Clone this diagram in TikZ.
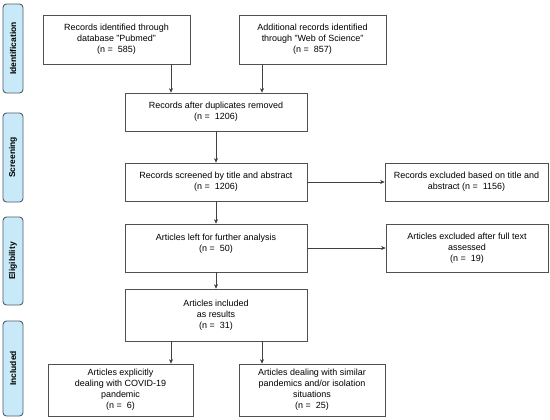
\documentclass[tikz,border=0pt]{standalone}
\usepackage{fontspec}
\setmainfont{Liberation Sans}
\usetikzlibrary{arrows.meta,calc}
\definecolor{sidefill}{HTML}{C8EAF8}
\definecolor{sidedraw}{HTML}{4F5D6B}
\definecolor{boxdraw}{HTML}{505050}
\begin{document}
\begin{tikzpicture}[x=1bp,y=-1bp,
  box/.style={draw=boxdraw,line width=0.7bp,fill=white,align=center,inner sep=0pt,
    font=\fontsize{9}{11}\selectfont},
  side/.style={draw=sidedraw,fill=sidefill,line width=0.9bp,rounded corners=3.5bp,
    minimum width=20bp,inner sep=0pt,font=\fontsize{8.5}{9}\bfseries\selectfont},
  arr/.style={draw=black!75,line width=0.6bp,-{Stealth[length=4.5bp,width=4bp]}}]
\useasboundingbox (0,0) rectangle (550,419);
\fill[white] (0,0) rectangle (550,419);
% side labels
\node[side,minimum height=89bp] (iden) at (13,48.5) {\rotatebox{90}{Identification}};
\node[side,minimum height=89bp] (scrn) at (13,157.5) {\rotatebox{90}{Screening}};
\node[side,minimum height=88bp] (elig) at (13,261) {\rotatebox{90}{Eligibility}};
\node[side,minimum height=95bp] (incl) at (13,368.5) {\rotatebox{90}{Included}};
% boxes
\node[box,minimum width=147bp,minimum height=49bp] (pub) at (116.5,39.5)
  {Records identified through\\database "Pubmed"\\(n =\ \ 585)};
\node[box,minimum width=147bp,minimum height=49bp] (wos) at (312.5,39.5)
  {Additional records identified\\through "Web of Science"\\(n =\ \ 857)};
\node[box,minimum width=182bp,minimum height=38bp] (dup) at (216,112)
  {Records after duplicates removed\\(n =\ \ 1206)};
\node[box,minimum width=182bp,minimum height=38bp] (scr) at (216,182)
  {Records screened by title and abstract\\(n =\ \ 1206)};
\node[box,minimum width=163bp,minimum height=38bp] (ex1) at (466.5,182)
  {Records excluded based on title and\\abstract (n =\ \ 1156)};
\node[box,minimum width=182bp,minimum height=48bp] (left) at (216,248)
  {Articles left for further analysis\\(n =\ \ 50)\\ \mbox{}};
\node[box,minimum width=162bp,minimum height=48bp] (ex2) at (467,248)
  {Articles excluded after full text\\assessed\\(n =\ \ 19)};
\node[box,minimum width=182bp,minimum height=52bp] (inc) at (216,315)
  {Articles included\\as results\\(n =\ \ 31)};
\node[box,minimum width=145bp,minimum height=52bp] (cov) at (120.5,390)
  {Articles explicitly\\dealing with COVID-19\\pandemic\\(n =\ \ 6)};
\node[box,minimum width=146bp,minimum height=52bp] (sim) at (312,390)
  {Articles dealing with similar\\pandemics and/or isolation\\situations\\(n =\ \ 25)};
% arrow columns
\coordinate (cl) at (171,0);
\coordinate (cr) at (262,0);
\draw[arr] (pub.south -| cl) -- (dup.north -| cl);
\draw[arr] (wos.south -| cr) -- (dup.north -| cr);
\draw[arr] (dup) -- (scr);
\draw[arr] (scr) -- (ex1);
\draw[arr] (scr) -- (left);
\draw[arr] (left.east) -- (ex2.west);
\draw[arr] (left) -- (inc);
\draw[arr] (inc.south -| cl) -- (cov.north -| cl);
\draw[arr] (inc.south -| cr) -- (sim.north -| cr);
\end{tikzpicture}
\end{document}
